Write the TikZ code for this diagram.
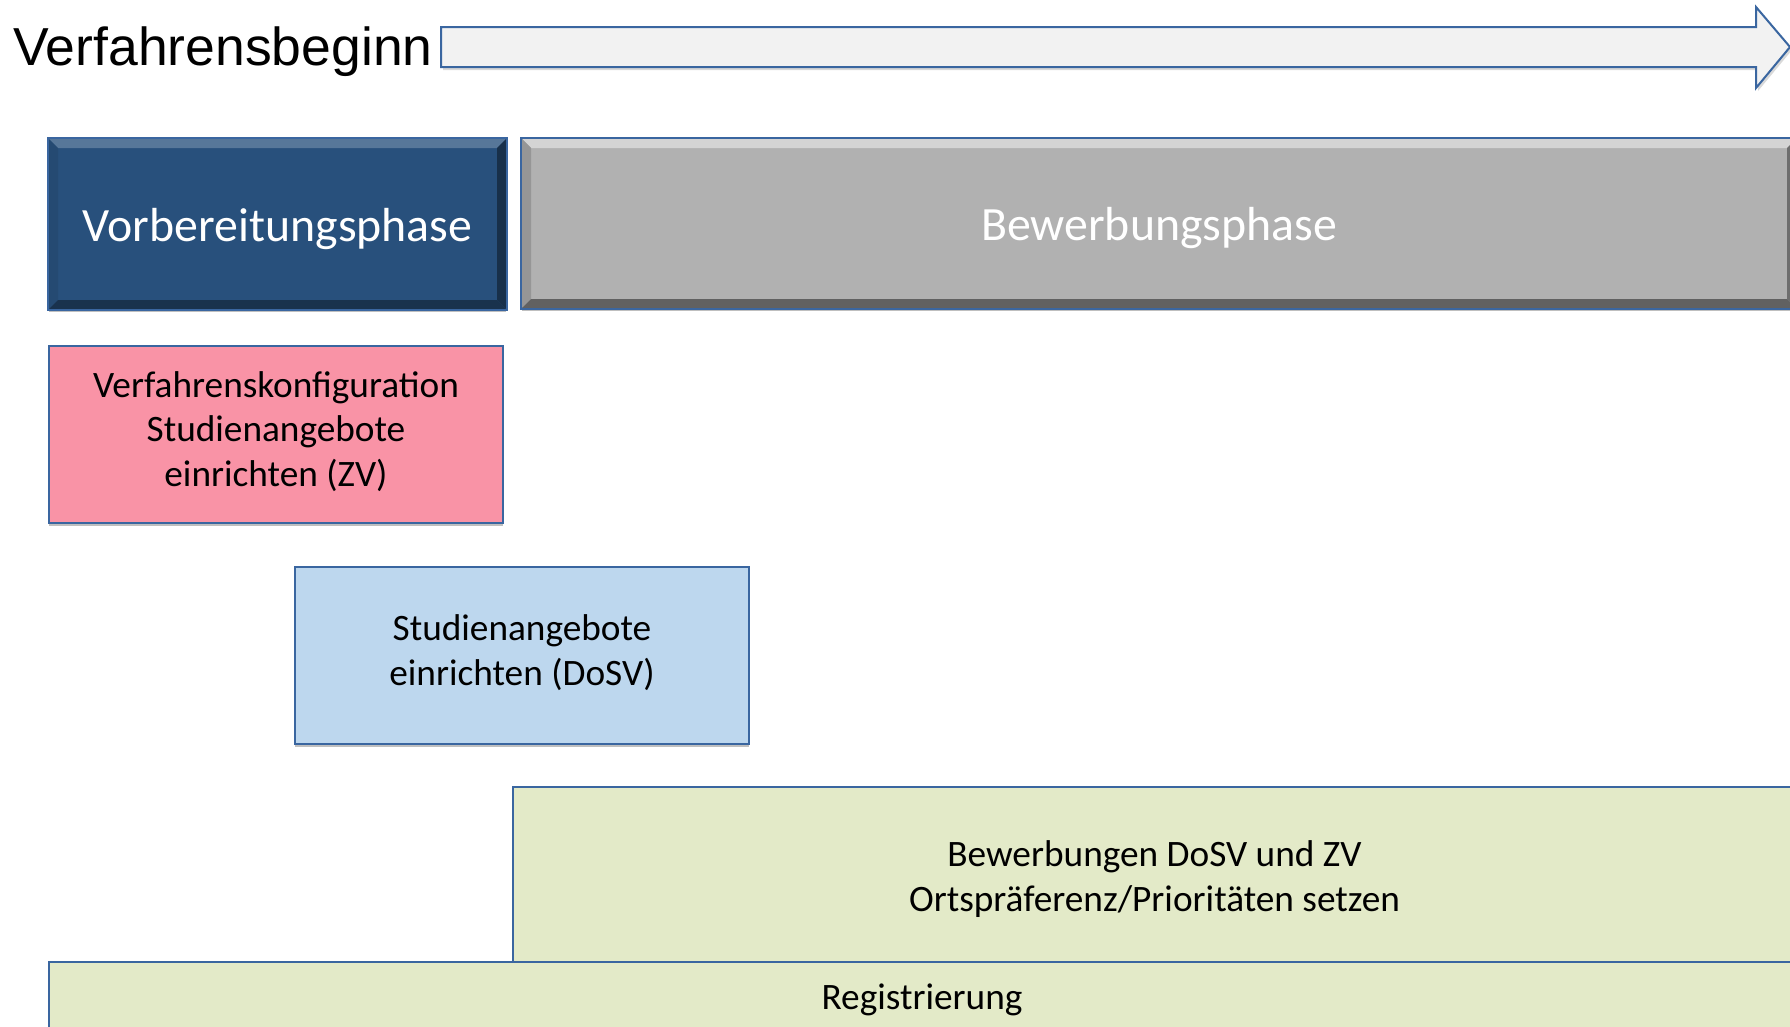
\documentclass[tikz,border=0pt]{standalone}
\usepackage{fontspec}
\setmainfont{Carlito}
\newfontfamily\arialfont{Liberation Sans}
\usetikzlibrary{calc,shadows}
\definecolor{edgeblue}{HTML}{3A66A0}
\definecolor{arrowfill}{HTML}{F2F2F2}
\definecolor{vorbfill}{HTML}{28507C}
\definecolor{bewfill}{HTML}{B1B1B1}
\definecolor{pinkfill}{HTML}{F993A6}
\definecolor{bluefill}{HTML}{BDD7EE}
\definecolor{greenfill}{HTML}{E3EAC8}
\tikzset{
  box/.style={draw=edgeblue, line width=2pt, inner sep=0pt, align=center,
    drop shadow={shadow xshift=0pt, shadow yshift=-3pt, opacity=0.25, fill=black}},
  bodytext/.style={font=\fontsize{37.3}{44.5}\selectfont, text=black},
  phasetext/.style={font=\fontsize{47.8}{56}\selectfont, text=white},
}
\newcommand{\mybevel}[6]{%
  % #1 node, #2 width, #3 top, #4 left, #5 right, #6 bottom
  \fill[#3] (#1.north west) -- (#1.north east) -- ($(#1.north east)+(-#2,#2)$) -- ($(#1.north west)+(#2,#2)$) -- cycle;
  \fill[#4] (#1.north west) -- ($(#1.north west)+(#2,#2)$) -- ($(#1.south west)+(#2,-#2)$) -- (#1.south west) -- cycle;
  \fill[#5] (#1.north east) -- ($(#1.north east)+(-#2,#2)$) -- ($(#1.south east)+(-#2,-#2)$) -- (#1.south east) -- cycle;
  \fill[#6] (#1.south west) -- ($(#1.south west)+(#2,-#2)$) -- ($(#1.south east)+(-#2,-#2)$) -- (#1.south east) -- cycle;
}
\begin{document}
\begin{tikzpicture}[x=1pt,y=-1pt]
\useasboundingbox (0,0) rectangle (1790,1026);
\clip (0,0) rectangle (1790,1026);
\fill[white] (0,0) rectangle (1790,1026);

% title and time arrow
\node[anchor=base west, inner sep=0pt, font=\arialfont\fontsize{53.5}{60}\selectfont] (title) at (13,65) {Verfahrensbeginn};
\fill[black, opacity=0.15] (443,30) -- (1758,30) -- (1758,10) -- (1792,50) -- (1758,91) -- (1758,70) -- (443,70) -- cycle;
\draw[edgeblue, line width=2pt, fill=arrowfill, line join=miter] (441,27) -- (1756,27) -- (1756,7) -- (1790,47) -- (1756,88) -- (1756,67) -- (441,67) -- cycle;

% phase boxes
\node[box, fill=vorbfill, minimum width=457pt, minimum height=170pt] (vorb) at (277.5,224) {};
\mybevel{vorb}{10}{white!22!vorbfill}{black!8!vorbfill}{black!40!vorbfill}{black!38!vorbfill}
\draw[edgeblue, line width=2pt] (vorb.north west) rectangle (vorb.south east);
\node[phasetext] (vorbt) at ($(vorb.center)+(0,5)$) {Vorbereitungsphase};

\node[box, fill=bewfill, minimum width=1274pt, minimum height=169pt] (bew) at (1159,223.5) {};
\mybevel{bew}{10}{white!45!bewfill}{black!15!bewfill}{black!38!bewfill}{black!45!bewfill}
\draw[edgeblue, line width=2pt] (bew.north west) rectangle (bew.south east);
\node[phasetext] (bewt) at ($(bew.center)+(0,5)$) {Bewerbungsphase};

% activity boxes
\node[box, fill=pinkfill, minimum width=454pt, minimum height=177pt] (cfg) at (276,434.5) {};
\node[bodytext, align=center] (cfgt) at ($(cfg.center)+(0,-3)$) {Verfahrenskonfiguration\\Studienangebote\\einrichten (ZV)};

\node[box, fill=bluefill, minimum width=454pt, minimum height=177pt] (dosv) at (522,655.5) {};
\node[bodytext, align=center] (dosvt) at ($(dosv.center)+(0,-3)$) {Studienangebote\\einrichten (DoSV)};

\node[box, fill=greenfill, minimum width=1283pt, minimum height=180pt] (bwg) at (1154.5,877) {};
\node[bodytext, align=center] (bwgt) at ($(bwg.center)+(0,2)$) {Bewerbungen DoSV und ZV\\Ortspräferenz/Prioritäten setzen};

\node[box, fill=greenfill, minimum width=1746pt, minimum height=80pt] (reg) at (922,1002) {};
\node[bodytext, anchor=center] (regt) at (922,999.5) {Registrierung};
\end{tikzpicture}
\end{document}
